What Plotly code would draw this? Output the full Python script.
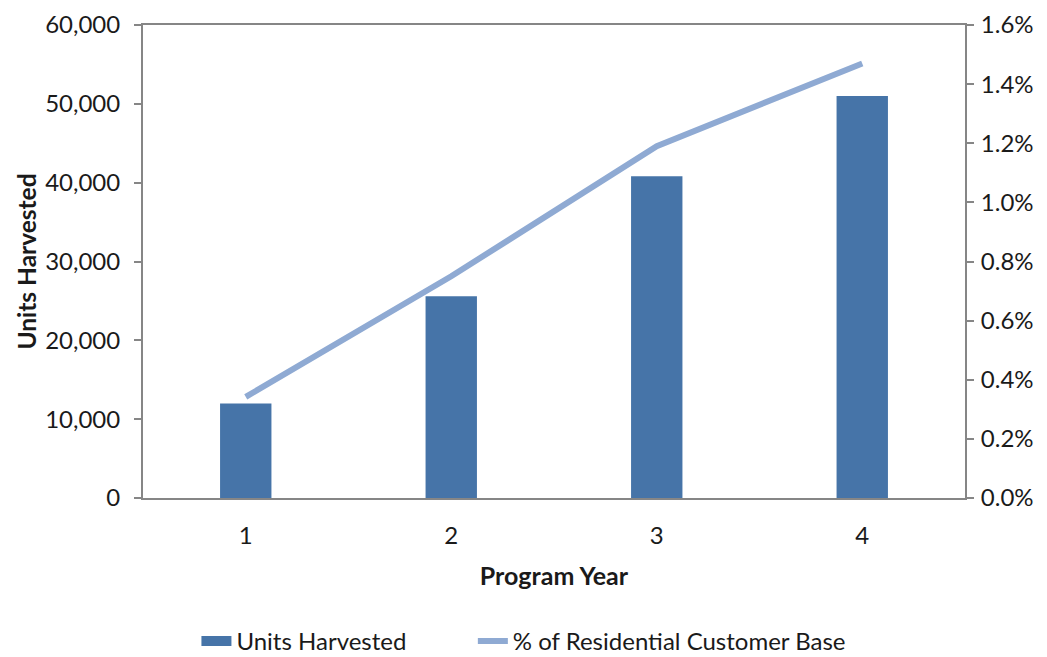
import plotly.graph_objects as go

years = ["1", "2", "3", "4"]
units_harvested = [12000, 25600, 40800, 51000]
pct_customer_base = [0.00342, 0.0075, 0.0119, 0.0147]

left_ticks = [0, 10000, 20000, 30000, 40000, 50000, 60000]
right_ticks = [0, 0.002, 0.004, 0.006, 0.008, 0.010, 0.012, 0.014, 0.016]

FONT = "Lato"
AXIS_GREY = "#868686"
BAR_COLOR = "#4674A8"
LINE_COLOR = "#8FAAD3"

fig = go.Figure()
fig.add_trace(go.Bar(
    x=years, y=units_harvested, name="Units Harvested",
    marker=dict(color=BAR_COLOR, line=dict(width=0)), width=0.25,
    yaxis="y", showlegend=False,
))
# legend key drawn as a wide block, like the reference
fig.add_trace(go.Scatter(
    x=[None], y=[None], name="Units Harvested" + "\u00a0" * 10, mode="lines",
    line=dict(color=BAR_COLOR, width=20), yaxis="y",
))
fig.add_trace(go.Scatter(
    x=years, y=pct_customer_base, name="% of Residential Customer Base",
    mode="lines", line=dict(color=LINE_COLOR, width=6),
    yaxis="y2",
))

fig.update_layout(
    width=1039, height=649,
    margin=dict(l=135, r=82, t=17, b=159),
    paper_bgcolor="white", plot_bgcolor="white",
    font=dict(family=FONT, size=24, color="#1a1a1a"),
    showlegend=True,
    legend=dict(orientation="h", x=0.065, xanchor="left",
                yref="container", y=0.024, yanchor="middle",
                font=dict(size=24), tracegroupgap=0),
    xaxis=dict(
        type="category", range=[-0.5, 3.5], automargin=False,
        showline=True, linecolor=AXIS_GREY, linewidth=2, mirror=True,
        ticks="", showgrid=False, zeroline=False, ticklabelstandoff=15,
        title=dict(text="<b>Program Year</b>", font=dict(size=25), standoff=20),
    ),
    yaxis=dict(
        range=[0, 60000], tickvals=left_ticks, tickformat=",d", automargin=False,
        showline=True, linecolor=AXIS_GREY, linewidth=2,
        ticks="outside", ticklen=7, tickcolor=AXIS_GREY, tickwidth=2,
        ticklabelstandoff=9,
        showgrid=False, zeroline=False,
        title=dict(text="<b>Units Harvested</b>", font=dict(size=24.5), standoff=2),
    ),
    yaxis2=dict(
        range=[0, 0.016], tickvals=right_ticks, tickformat=".1%", automargin=False,
        overlaying="y", side="right",
        showline=True, linecolor=AXIS_GREY, linewidth=2,
        ticks="outside", ticklen=7, tickcolor=AXIS_GREY, tickwidth=2,
        ticklabelstandoff=2,
        showgrid=False, zeroline=False,
    ),
)

fig.write_html("out.html")
